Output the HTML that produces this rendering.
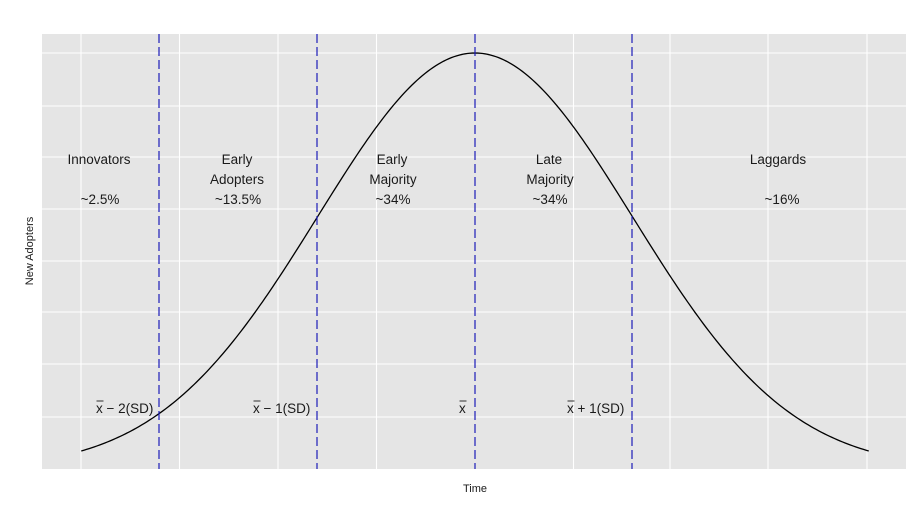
<!DOCTYPE html>
<html><head><meta charset="utf-8"><style>
body{margin:0;background:#fff}
svg text{font-family:"Liberation Sans",Arial,sans-serif;fill:#1a1a1a}
</style></head><body>
<svg id="s" width="918" height="502" viewBox="0 0 918 502" xmlns="http://www.w3.org/2000/svg">
<rect x="42" y="34" width="864" height="435" fill="#e5e5e5"/>
<g stroke="#fff" stroke-width="1.1">
<line x1="42" x2="906" y1="53" y2="53"/><line x1="42" x2="906" y1="106" y2="106"/>
<line x1="42" x2="906" y1="157" y2="157"/><line x1="42" x2="906" y1="209" y2="209"/>
<line x1="42" x2="906" y1="261" y2="261"/><line x1="42" x2="906" y1="312" y2="312"/>
<line x1="42" x2="906" y1="364" y2="364"/><line x1="42" x2="906" y1="417" y2="417"/>
<line y1="34" y2="469" x1="81" x2="81"/><line y1="34" y2="469" x1="179.5" x2="179.5"/>
<line y1="34" y2="469" x1="278" x2="278"/><line y1="34" y2="469" x1="376.5" x2="376.5"/>
<line y1="34" y2="469" x1="573.5" x2="573.5"/><line y1="34" y2="469" x1="670" x2="670"/>
<line y1="34" y2="469" x1="768" x2="768"/><line y1="34" y2="469" x1="867" x2="867"/>
</g>
<path id="curve" fill="none" stroke="#000" stroke-width="1.3"/>
<g stroke="#1c1cb8" stroke-width="1.2" stroke-dasharray="9,4">
<line x1="159" x2="159" y1="34" y2="469"/><line x1="317" x2="317" y1="34" y2="469"/>
<line x1="475" x2="475" y1="34" y2="469"/><line x1="632" x2="632" y1="34" y2="469"/>
</g>
<g font-size="13.5" text-anchor="middle">
<text x="99" y="164">Innovators</text><text x="100" y="204">~2.5%</text>
<text x="237" y="164">Early</text><text x="237" y="184">Adopters</text><text x="238" y="204">~13.5%</text>
<text x="392" y="164">Early</text><text x="393" y="184">Majority</text><text x="393" y="204">~34%</text>
<text x="549" y="164">Late</text><text x="550" y="184">Majority</text><text x="550" y="204">~34%</text>
<text x="778" y="164">Laggards</text><text x="782" y="204">~16%</text>
</g>
<g font-size="13.5">
<text x="96" y="413">x − 2(SD)</text>
<text x="253" y="413">x − 1(SD)</text>
<text x="459" y="413">x</text>
<text x="567" y="413">x + 1(SD)</text>
</g>
<g stroke="#1a1a1a" stroke-width="0.9">
<line x1="96.5" x2="103.5" y1="401" y2="401"/><line x1="253.5" x2="260.5" y1="401" y2="401"/>
<line x1="459.5" x2="466.5" y1="401" y2="401"/><line x1="567.5" x2="574.5" y1="401" y2="401"/>
</g>
<text x="475" y="492" font-size="11" text-anchor="middle">Time</text>
<text transform="translate(33,251) rotate(-90)" font-size="11" text-anchor="middle">New Adopters</text>
</svg>
<script>
var d="";for(var i=0;i<=300;i++){var z=-2.5+5*i/300;var x=475+157.5*z;var y=469.3-416.3*Math.exp(-z*z/2);d+=(i?"L":"M")+x.toFixed(2)+","+y.toFixed(2);}
document.getElementById("curve").setAttribute("d",d);
</script>
</body></html>
